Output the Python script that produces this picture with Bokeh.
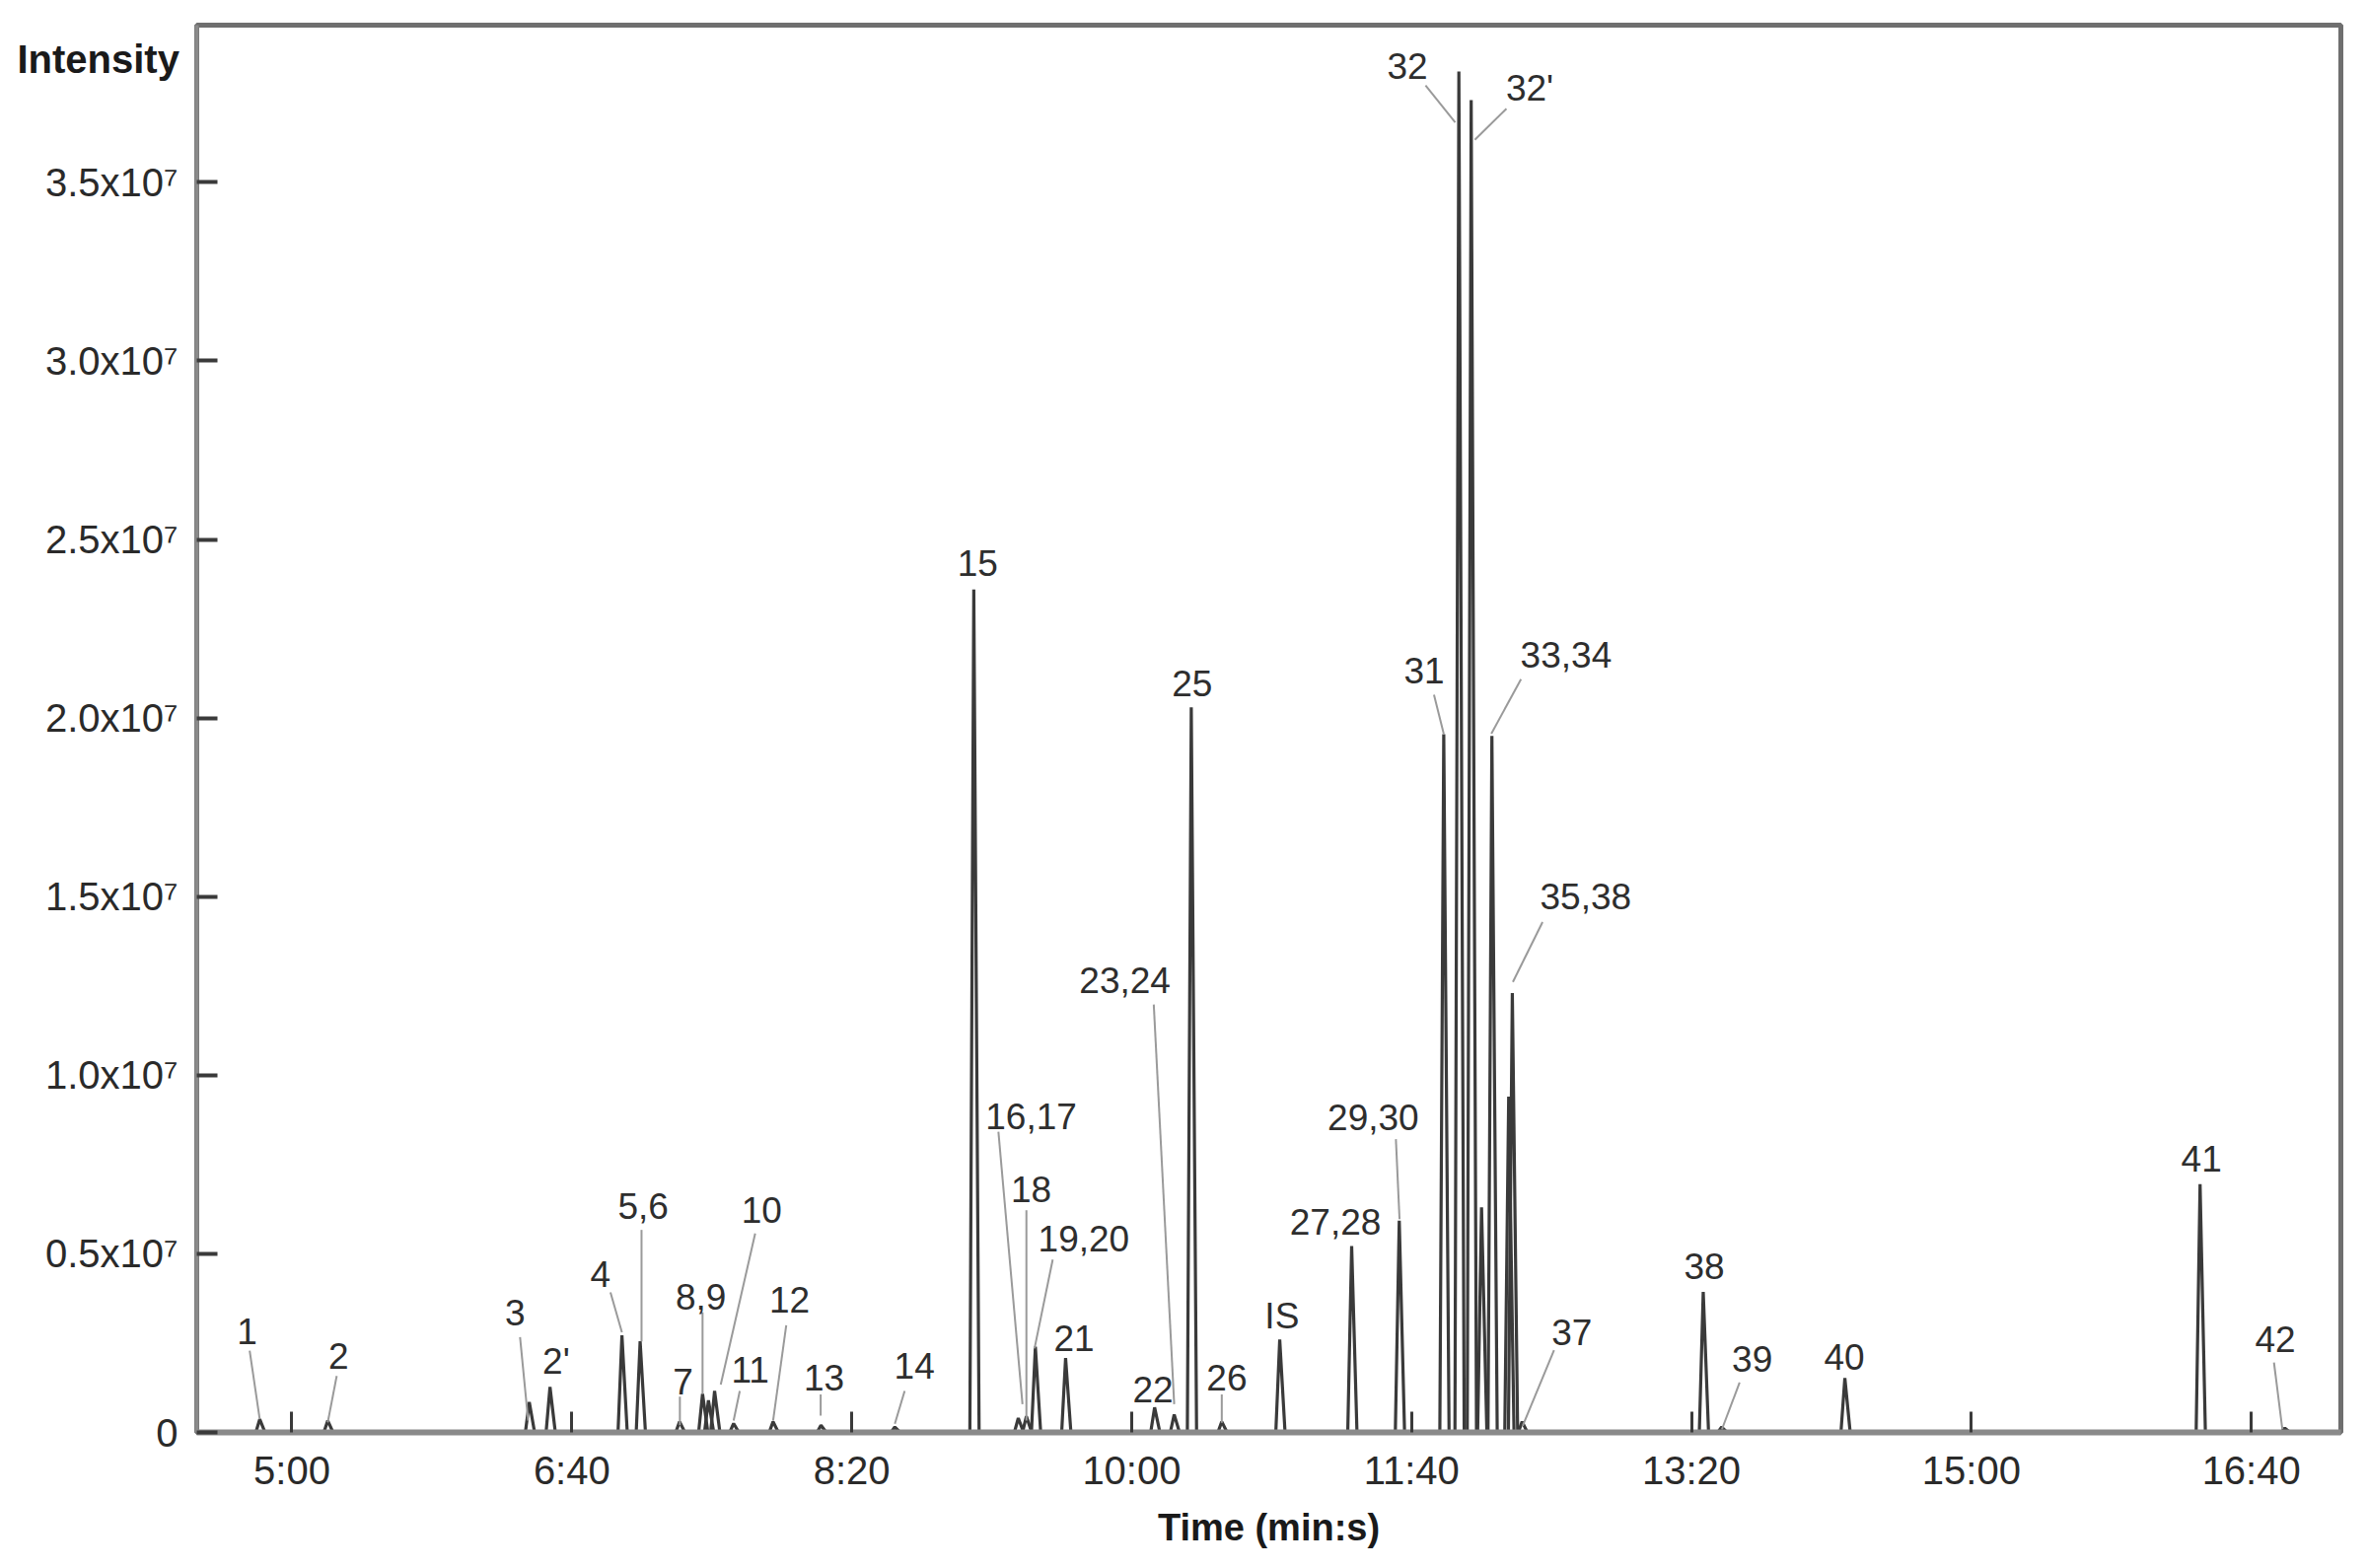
from bokeh.plotting import figure
from bokeh.models import FixedTicker, Range1d, ColumnDataSource
from bokeh.core.properties import value
from bokeh.embed import file_html
from bokeh.resources import INLINE

# ---------------- data ----------------
# retention time (s) and apex intensity of each chromatographic peak
peak_times = [288.5, 312.8, 384.8, 392.2, 417.9, 424.4, 438.5, 446.7, 448.8, 451.0,
              457.8, 471.9, 489.0, 515.4, 543.6, 559.5, 562.4, 565.6, 576.4, 608.2,
              615.2, 621.3, 632.2, 652.9, 678.6, 695.6, 711.5, 716.9, 721.3, 725.0,
              728.7, 734.7, 736.0, 739.5, 804.2, 810.8, 854.8, 981.7, 1012.0]
peak_heights = [0.37e6, 0.33e6, 0.85e6, 1.27e6, 2.72e6, 2.55e6, 0.30e6, 1.08e6, 0.90e6, 1.16e6,
                0.25e6, 0.30e6, 0.20e6, 0.15e6, 23.6e6, 0.40e6, 0.45e6, 2.40e6, 2.08e6, 0.70e6,
                0.50e6, 20.3e6, 0.30e6, 2.60e6, 5.22e6, 5.93e6, 19.55e6, 38.1e6, 37.3e6, 6.3e6,
                19.5e6, 9.4e6, 12.3e6, 0.30e6, 3.93e6, 0.15e6, 1.52e6, 6.95e6, 0.12e6]

# peak annotations (text, anchor time s, anchor intensity)
label_texts = ["1", "2", "3", "2'", "4", "5,6", "7", "8,9", "10", "11",
               "12", "13", "14", "15", "16,17", "18", "19,20", "21", "22", "23,24",
               "25", "26", "IS", "27,28", "29,30", "31", "32", "32'", "33,34", "35,38",
               "37", "38", "39", "40", "41", "42"]
label_t = [284.0, 316.7, 379.7, 394.4, 410.2, 425.5, 439.7, 446.1, 467.8, 463.7,
           477.8, 490.1, 522.4, 545.0, 564.1, 564.1, 582.9, 579.4, 607.6, 597.6,
           621.6, 634.0, 653.7, 672.8, 686.3, 704.5, 698.5, 742.2, 755.2, 762.2,
           757.3, 804.6, 821.7, 854.6, 982.2, 1008.6]
label_i = [v * 1e6 for v in
           [2.84, 2.15, 3.36, 1.99, 4.42, 6.35, 1.43, 3.79, 6.22, 1.76,
            3.70, 1.53, 1.85, 24.34, 8.84, 6.81, 5.43, 2.63, 1.20, 12.66,
            20.98, 1.53, 3.27, 5.90, 8.81, 21.32, 38.26, 37.62, 21.78, 15.02,
            2.81, 4.66, 2.05, 2.10, 7.65, 2.61]]

# leader lines from labels to peaks: (t0, i0) -> (t1, i1), intensity in 1e6
leader_t0 = [284.9, 316.0, 381.5, 413.8, 424.9, 438.6, 446.7, 465.5, 460.0, 476.6,
             488.9, 518.9, 552.4, 562.4, 571.8, 607.9, 632.2, 694.4, 708.0, 705.0,
             733.9, 739.1, 746.8, 750.9, 817.2, 1008.1]
leader_i0 = [2.29, 1.58, 2.67, 3.92, 5.67, 1.00, 3.36, 5.57, 1.16, 3.00,
             1.06, 1.16, 8.42, 6.22, 4.84, 11.98, 1.06, 8.21, 20.65, 37.71,
             37.06, 21.09, 14.29, 2.30, 1.40, 1.96]
leader_t1 = [288.5, 312.8, 384.4, 417.9, 424.9, 438.6, 446.7, 453.2, 457.8, 471.9,
             488.9, 515.4, 561.0, 562.4, 565.3, 615.2, 632.2, 695.7, 711.5, 715.6,
             722.6, 728.5, 736.2, 739.7, 810.9, 1011.1]
leader_i1 = [0.37, 0.28, 0.33, 2.80, 2.55, 0.20, 1.08, 1.34, 0.33, 0.33,
             0.47, 0.24, 0.79, 0.33, 2.35, 0.79, 0.27, 5.97, 19.56, 36.68,
             36.19, 19.56, 12.61, 0.18, 0.09, 0.09]

x_ticks = [300, 400, 500, 600, 700, 800, 900, 1000]
x_tick_labels = ["5:00", "6:40", "8:20", "10:00", "11:40", "13:20", "15:00", "16:40"]
y_ticks = [0, 5e6, 10e6, 15e6, 20e6, 25e6, 30e6, 35e6]
y_tick_labels = ["0", "0.5x10\u2077", "1.0x10\u2077", "1.5x10\u2077", "2.0x10\u2077",
                 "2.5x10\u2077", "3.0x10\u2077", "3.5x10\u2077"]

# ---------------- figure ----------------
FONT = "Liberation Sans"
p = figure(width=2384, height=1574, output_backend="svg", toolbar_location=None,
           x_range=Range1d(266, 1032), y_range=Range1d(0, 39.4e6),
           min_border_left=199, min_border_right=11, min_border_top=25, min_border_bottom=122)
p.background_fill_color = "white"
p.border_fill_color = "white"
p.grid.visible = False
p.outline_line_color = "#6f6f6f"
p.outline_line_width = 5

# peaks drawn as narrow spikes
lw, rw = 1.4, 1.9
xs = [[t - lw, t, t + rw] for t in peak_times]
ys = [[0, h, 0] for h in peak_heights]
p.multi_line(xs=xs, ys=ys, line_color="#3a3a3a", line_width=3.2)

# leader lines
lxs = [[a, b] for a, b in zip(leader_t0, leader_t1)]
lys = [[a * 1e6, b * 1e6] for a, b in zip(leader_i0, leader_i1)]
p.multi_line(xs=lxs, ys=lys, line_color="#9a9a9a", line_width=2)

# peak labels
src = ColumnDataSource(dict(x=label_t, y=label_i, text=label_texts))
p.text(x="x", y="y", text="text", source=src, text_font=value(FONT),
       text_font_size=value("37px"), text_color="#2e2e2e",
       text_align="center", text_baseline="middle")

# axes
for ax in (p.xaxis[0], p.yaxis[0]):
    ax.axis_line_color = "#8a8a8a"
    ax.major_tick_line_color = "#3a3a3a"
    ax.major_tick_out = 0
    ax.major_tick_in = 21
    ax.minor_tick_line_color = None
    ax.major_label_text_font = FONT
    ax.major_label_text_font_size = "40px"
    ax.major_label_text_color = "#2a2a2a"

p.xaxis.axis_line_width = 6
p.xaxis.major_tick_line_width = 3
p.xaxis.ticker = FixedTicker(ticks=x_ticks)
p.xaxis.major_label_overrides = {t: s for t, s in zip(x_ticks, x_tick_labels)}
p.xaxis.major_label_standoff = 16
p.xaxis.axis_label = "Time (min:s)"
p.xaxis.axis_label_text_font = FONT
p.xaxis.axis_label_text_font_size = "38px"
p.xaxis.axis_label_text_font_style = "bold"
p.xaxis.axis_label_text_color = "#1a1a1a"
p.xaxis.axis_label_standoff = 12

p.yaxis.axis_line_width = 4
p.yaxis.major_tick_line_width = 4
p.yaxis.ticker = FixedTicker(ticks=y_ticks)
p.yaxis.major_label_overrides = {t: s for t, s in zip(y_ticks, y_tick_labels)}
p.yaxis.major_label_standoff = 19

# "Intensity" as a horizontal y-axis label at the top of the axis
p.yaxis.axis_label = "\nIntensity"
p.yaxis.axis_label_orientation = "horizontal"
p.yaxis.axis_label_text_font = FONT
p.yaxis.axis_label_text_font_size = "40px"
p.yaxis.axis_label_text_font_style = "bold"
p.yaxis.axis_label_text_color = "#1a1a1a"
p.yaxis.axis_label_text_line_height = 1.55
p.yaxis.axis_label_standoff = -139
try:
    p.yaxis.axis_label_align = "end"
except Exception:
    pass

open("out.html", "w").write(file_html(p, INLINE))
